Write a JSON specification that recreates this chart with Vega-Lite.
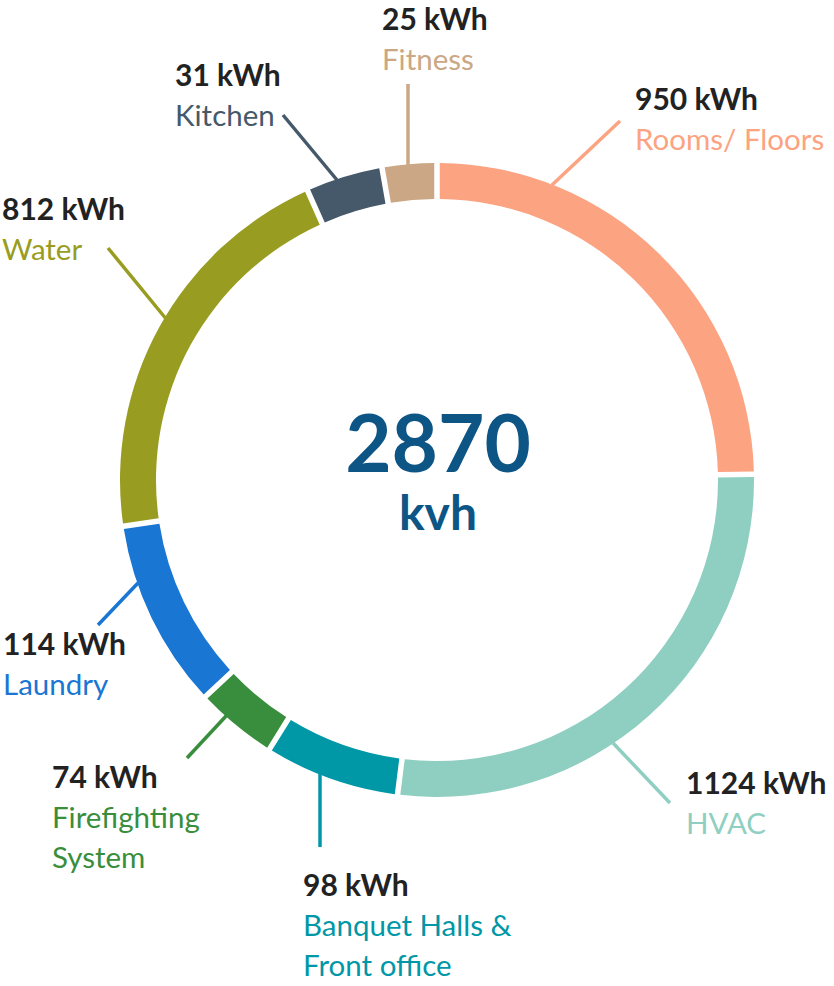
{
  "$schema": "https://vega.github.io/schema/vega-lite/v6.json",
  "width": 834,
  "height": 986,
  "autosize": {"type": "none"},
  "padding": 0,
  "background": "white",
  "config": {"view": {"stroke": null}, "font": "Lato"},
  "data": {
    "values": [
      {"idx": 1, "cat": "Rooms", "name": "Rooms/ Floors", "label": "950 kWh", "share": 88.95, "lx": 198, "ly": 370, "ax": 115, "ay": 295, "bx": 183, "by": 359},
      {"idx": 2, "cat": "HVAC", "name": "HVAC", "label": "1124 kWh", "share": 98.2, "lx": 249, "ly": -314, "ax": 176, "ay": -263, "bx": 233, "by": -323},
      {"idx": 3, "cat": "Banquet", "name": "Banquet Halls &\nFront office", "label": "98 kWh", "share": 24.75, "lx": -134, "ly": -416, "ax": -117, "ay": -293, "bx": -117, "by": -367},
      {"idx": 4, "cat": "Firefighting", "name": "Firefighting\nSystem", "label": "74 kWh", "share": 15.0, "lx": -385, "ly": -308, "ax": -210, "ay": -235, "bx": -250, "by": -278},
      {"idx": 5, "cat": "Laundry", "name": "Laundry", "label": "114 kWh", "share": 34.7, "lx": -434, "ly": -175, "ax": -299, "ay": -103, "bx": -339, "by": -145},
      {"idx": 6, "cat": "Water", "name": "Water", "label": "812 kWh", "share": 74.3, "lx": -435, "ly": 260, "ax": -270, "ay": 160, "bx": -329, "by": 232},
      {"idx": 7, "cat": "Kitchen", "name": "Kitchen", "label": "31 kWh", "share": 14.1, "lx": -262, "ly": 394, "ax": -100, "ay": 300, "bx": -154, "by": 365},
      {"idx": 8, "cat": "Fitness", "name": "Fitness", "label": "25 kWh", "share": 10.0, "lx": -55, "ly": 450, "ax": -29, "ay": 315, "bx": -29, "by": 396}
    ]
  },
  "layer": [
    {
      "mark": {"type": "rule", "strokeWidth": 3.5, "strokeCap": "butt"},
      "encoding": {
        "x": {"field": "ax", "type": "quantitative", "scale": {"domain": [-437, 397], "nice": false, "zero": false}, "axis": null},
        "y": {"field": "ay", "type": "quantitative", "scale": {"domain": [-506, 480], "nice": false, "zero": false}, "axis": null},
        "x2": {"field": "bx"},
        "y2": {"field": "by"},
        "color": {
          "field": "cat", "type": "nominal", "legend": null,
          "scale": {
            "domain": ["Rooms", "HVAC", "Banquet", "Firefighting", "Laundry", "Water", "Kitchen", "Fitness"],
            "range": ["#FCA381", "#8FCFC1", "#0097A7", "#388E3C", "#1976D2", "#989D21", "#45596A", "#CBA785"]
          }
        }
      }
    },
    {
      "mark": {"type": "arc", "outerRadius": 317, "innerRadius": 281, "padAngle": 0.013},
      "encoding": {
        "x": {"datum": 0, "type": "quantitative", "axis": null},
        "y": {"datum": 0, "type": "quantitative", "axis": null},
        "theta": {"field": "share", "type": "quantitative", "stack": true},
        "order": {"field": "idx", "type": "quantitative"},
        "color": {"field": "cat", "type": "nominal", "legend": null}
      }
    },
    {
      "mark": {"type": "text", "align": "left", "baseline": "alphabetic", "fontSize": 30, "fontWeight": "bold", "fill": "#222222"},
      "encoding": {
        "x": {"field": "lx", "type": "quantitative", "axis": null},
        "y": {"field": "ly", "type": "quantitative", "axis": null},
        "text": {"field": "label"}
      }
    },
    {
      "mark": {"type": "text", "align": "left", "baseline": "alphabetic", "fontSize": 29.5, "dy": 40, "lineHeight": 40, "lineBreak": "\n"},
      "encoding": {
        "x": {"field": "lx", "type": "quantitative", "axis": null},
        "y": {"field": "ly", "type": "quantitative", "axis": null},
        "text": {"field": "name"},
        "color": {"field": "cat", "type": "nominal", "legend": null}
      }
    },
    {
      "data": {"values": [{"t": "2870"}]},
      "mark": {"type": "text", "align": "center", "baseline": "alphabetic", "fontSize": 80, "fontWeight": "bold", "fill": "#0D5585"},
      "encoding": {
        "x": {"datum": 1, "type": "quantitative", "axis": null},
        "y": {"datum": 8, "type": "quantitative", "axis": null},
        "text": {"field": "t"}
      }
    },
    {
      "data": {"values": [{"t": "kvh"}]},
      "mark": {"type": "text", "align": "center", "baseline": "alphabetic", "fontSize": 48, "fontWeight": "bold", "fill": "#0D5585"},
      "encoding": {
        "x": {"datum": 1, "type": "quantitative", "axis": null},
        "y": {"datum": -50, "type": "quantitative", "axis": null},
        "text": {"field": "t"}
      }
    }
  ]
}
